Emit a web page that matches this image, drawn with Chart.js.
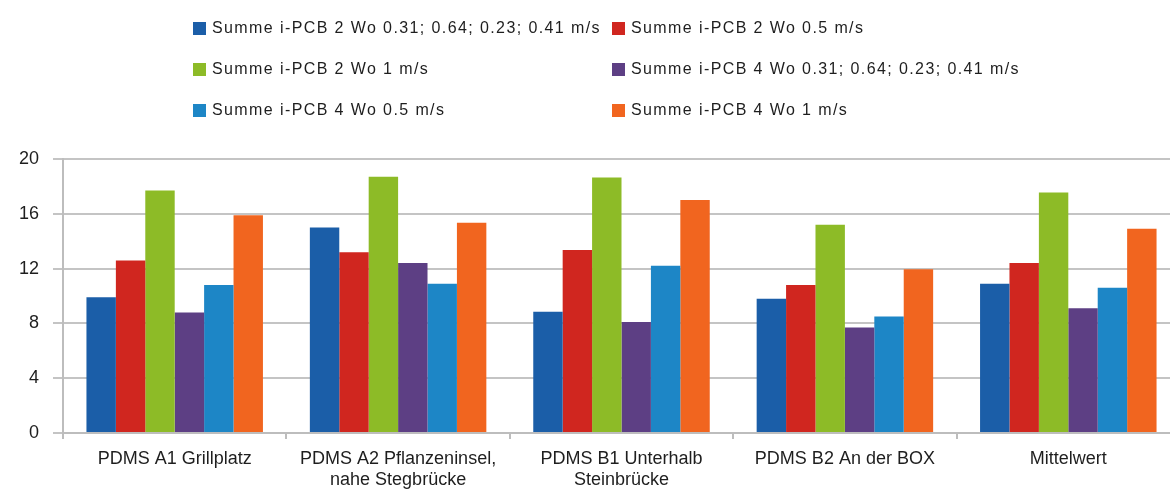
<!DOCTYPE html>
<html>
<head>
<meta charset="utf-8">
<script src="https://cdn.jsdelivr.net/npm/chart.js@4"></script>
<style>
    html, body { margin: 0; padding: 0; background: #fff; overflow: hidden; }
    body { width: 1170px; height: 490px; position: relative; }
    #wrap { position: absolute; left: 0; top: 0; width: 1185px; height: 490px; }
    #legend {
        position: absolute; left: 193px; top: 17px;
        display: grid; grid-template-columns: 419px 420px; row-gap: 19px;
        font-family: "Liberation Sans", Arial, sans-serif; font-size: 16px;
        letter-spacing: 1.4px; color: #1e1e1e;
    }
    .item { display: flex; align-items: center; height: 22px; white-space: nowrap; }
    .box { width: 13px; height: 13px; margin-right: 6px; flex: none; }
</style>
</head>
<body>
<div id="wrap"><canvas id="chart"></canvas></div>
<div id="legend"></div>
<script>
const categories = [
    'PDMS A1 Grillplatz',
    ['PDMS A2 Pflanzeninsel,', 'nahe Stegbrücke'],
    ['PDMS B1 Unterhalb', 'Steinbrücke'],
    'PDMS B2 An der BOX',
    'Mittelwert'
];
const seriesNames = [
    'Summe i-PCB 2 Wo 0.31; 0.64; 0.23; 0.41 m/s',
    'Summe i-PCB 2 Wo 0.5 m/s',
    'Summe i-PCB 2 Wo 1 m/s',
    'Summe i-PCB 4 Wo 0.31; 0.64; 0.23; 0.41 m/s',
    'Summe i-PCB 4 Wo 0.5 m/s',
    'Summe i-PCB 4 Wo 1 m/s'
];
const pcb2Slow = [9.9, 15.0, 8.85, 9.8, 10.9];
const pcb2Mid = [12.6, 13.2, 13.35, 10.8, 12.4];
const pcb2Fast = [17.7, 18.7, 18.65, 15.2, 17.55];
const pcb4Slow = [8.8, 12.4, 8.1, 7.7, 9.1];
const pcb4Mid = [10.8, 10.9, 12.2, 8.5, 10.6];
const pcb4Fast = [15.9, 15.35, 17.0, 11.95, 14.9];
const seriesValues = [pcb2Slow, pcb2Mid, pcb2Fast, pcb4Slow, pcb4Mid, pcb4Fast];
const yTicks = [0, 4, 8, 12, 16, 20];

const colors = ['#1b5ea8', '#d0261f', '#8dbb27', '#5d3f84', '#1d86c6', '#f1651f'];

// legend as html, two columns like the original
const legendEl = document.getElementById('legend');
seriesNames.forEach((name, i) => {
    const item = document.createElement('div');
    item.className = 'item';
    item.innerHTML = `<span class="box" style="background:${colors[i]}"></span><span>${name}</span>`;
    legendEl.appendChild(item);
});

const ctx = document.getElementById('chart').getContext('2d');
new Chart(ctx, {
    type: 'bar',
    data: {
        labels: categories,
        datasets: seriesValues.map((values, i) => ({
            label: seriesNames[i],
            data: values,
            backgroundColor: colors[i],
            borderWidth: 0,
            categoryPercentage: 0.79,
            barPercentage: 1
        }))
    },
    options: {
        responsive: true,
        maintainAspectRatio: false,
        animation: false,
        layout: { padding: { top: 159, right: 5, left: 0, bottom: 0 } },
        plugins: {
            legend: { display: false },
            tooltip: { enabled: false }
        },
        scales: {
            y: {
                min: yTicks[0],
                max: yTicks[yTicks.length - 1],
                afterBuildTicks: (scale) => { scale.ticks = yTicks.map(v => ({ value: v })); },
                afterFit: (scale) => { scale.width = 63; },
                grid: { color: '#c4c4c4', lineWidth: 2, tickLength: 10 },
                border: { color: '#bdbdbd', width: 2 },
                ticks: {
                    color: '#1e1e1e',
                    padding: 14,
                    font: { family: 'Liberation Sans', size: 18 }
                }
            },
            x: {
                afterFit: (scale) => { scale.height = 57; },
                grid: { drawOnChartArea: false, color: '#bdbdbd', lineWidth: 2, tickLength: 6 },
                border: { color: '#bdbdbd', width: 2 },
                ticks: {
                    color: '#1e1e1e',
                    padding: 9,
                    maxRotation: 0,
                    autoSkip: false,
                    font: { family: 'Liberation Sans', size: 18, lineHeight: 1.2 }
                }
            }
        }
    }
});
</script>
</body>
</html>
